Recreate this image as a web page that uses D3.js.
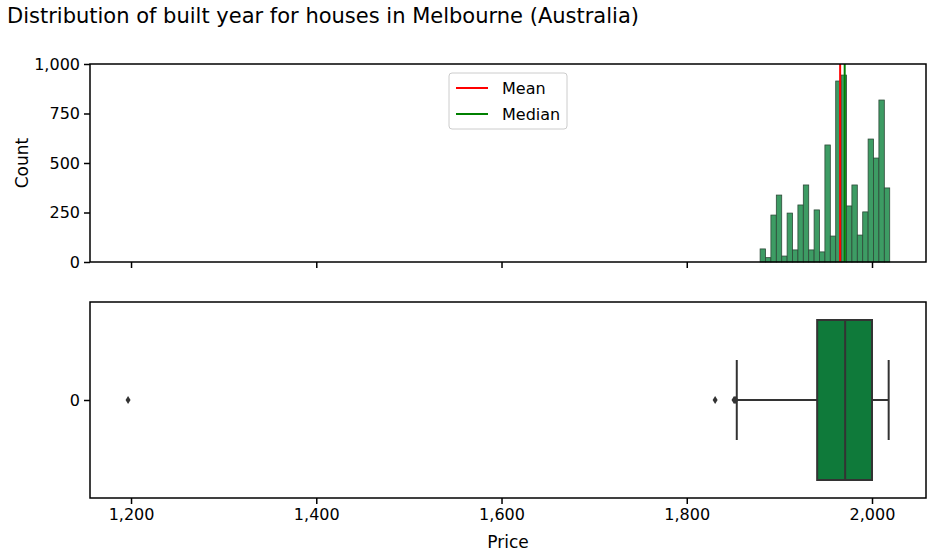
<!DOCTYPE html><html><head><script src="https://cdn.jsdelivr.net/npm/d3@7"></script>
<style>body{margin:0;background:#fff}text{font-family:"DejaVu Sans",sans-serif}</style></head><body>
<svg id="c" width="934" height="559"></svg>
<script>
const counts=[66,22,237,338,30,247,61,288,389,61,263,51,591,131,914,944,283,389,136,253,621,525,818,374];
const binStart=1879.2, binWidth=5.83;
const meanYear=1965.6, medianYear=1970.5;
const boxStats={q1:1940.8,med:1971,q3:2000,lo:1854,hi:2018};
const outliers=[1196.8,1830.6,1851,1852,1853];
const xTicks=[1200,1400,1600,1800,2000];
const yTicks=[0,250,500,750,1000];
const svg=d3.select("#c");
const L=90,R=926,T1=64,B1=262,T2=302,B2=498;
const x=d3.scaleLinear().domain([1155.7,2058.3]).range([L,R]);
const y=d3.scaleLinear().domain([0,1000]).range([B1,T1]);
svg.append("text").attr("x",7).attr("y",23).attr("font-size",21).text("Distribution of built year for houses in Melbourne (Australia)");
svg.append("g").selectAll("rect").data(counts).join("rect")
 .attr("x",(d,i)=>x(binStart+i*binWidth)).attr("width",x(binStart+binWidth)-x(binStart))
 .attr("y",d=>y(d)).attr("height",d=>B1-y(d)).attr("fill","#3d9c64").attr("stroke","#2d4a38").attr("stroke-width",0.8);
svg.append("line").attr("x1",x(meanYear)).attr("x2",x(meanYear)).attr("y1",T1).attr("y2",B1).attr("stroke","red").attr("stroke-width",2);
svg.append("line").attr("x1",x(medianYear)).attr("x2",x(medianYear)).attr("y1",T1).attr("y2",B1).attr("stroke","green").attr("stroke-width",2);
const fmt=g=>{g.selectAll("text").attr("font-size",16).attr("fill","#000").style("font-family","DejaVu Sans");g.selectAll("line").attr("stroke-width",1.5);g.select(".domain").remove();};
svg.append("g").attr("transform",`translate(${L},0)`).call(d3.axisLeft(y).tickValues(yTicks).tickSize(6).tickPadding(4)).call(fmt);
svg.append("g").attr("transform",`translate(0,${B1})`).call(d3.axisBottom(x).tickValues(xTicks).tickSize(6).tickFormat("")).call(fmt);
svg.append("rect").attr("x",L).attr("y",T1).attr("width",R-L).attr("height",B1-T1).attr("fill","none").attr("stroke","#000").attr("stroke-width",1.5);
svg.append("text").attr("transform",`translate(28,${(T1+B1)/2}) rotate(-90)`).attr("text-anchor","middle").attr("font-size",17).text("Count");
// legend
const lg=svg.append("g");
lg.append("rect").attr("x",449).attr("y",73).attr("width",118).attr("height",56).attr("rx",3).attr("fill","#fff").attr("stroke","#ccc");
[["Mean","red",88],["Median","green",114]].forEach(([t,c,yy])=>{
 lg.append("line").attr("x1",456).attr("x2",488).attr("y1",yy).attr("y2",yy).attr("stroke",c).attr("stroke-width",2);
 lg.append("text").attr("x",502).attr("y",yy+6).attr("font-size",16).text(t);});
// box
const cy=400;
svg.append("line").attr("x1",x(boxStats.lo)).attr("x2",x(boxStats.q1)).attr("y1",cy).attr("y2",cy).attr("stroke","#333").attr("stroke-width",2);
svg.append("line").attr("x1",x(boxStats.q3)).attr("x2",x(boxStats.hi)).attr("y1",cy).attr("y2",cy).attr("stroke","#333").attr("stroke-width",2);
[boxStats.lo,boxStats.hi].forEach(v=>svg.append("line").attr("x1",x(v)).attr("x2",x(v)).attr("y1",360).attr("y2",440).attr("stroke","#333").attr("stroke-width",2));
svg.append("rect").attr("x",x(boxStats.q1)).attr("width",x(boxStats.q3)-x(boxStats.q1)).attr("y",320).attr("height",160).attr("fill","#0f7a3a").attr("stroke","#333").attr("stroke-width",2);
svg.append("line").attr("x1",x(boxStats.med)).attr("x2",x(boxStats.med)).attr("y1",320).attr("y2",480).attr("stroke","#333").attr("stroke-width",2);
svg.append("g").selectAll("path").data(outliers).join("path").attr("d","M0,-4L2.5,0L0,4L-2.5,0Z").attr("transform",d=>`translate(${x(d)},${cy})`).attr("fill","#333");
svg.append("g").attr("transform",`translate(0,${B2})`).call(d3.axisBottom(x).tickValues(xTicks).tickSize(6).tickPadding(5)).call(fmt);
const yb=d3.scalePoint().domain(["0"]).range([cy,cy]);
svg.append("g").attr("transform",`translate(${L},0)`).call(d3.axisLeft(yb).tickSize(6).tickPadding(4)).call(fmt);
svg.append("rect").attr("x",L).attr("y",T2).attr("width",R-L).attr("height",B2-T2).attr("fill","none").attr("stroke","#000").attr("stroke-width",1.5);
svg.append("text").attr("x",(L+R)/2).attr("y",548).attr("text-anchor","middle").attr("font-size",17).text("Price");
</script></body></html>
